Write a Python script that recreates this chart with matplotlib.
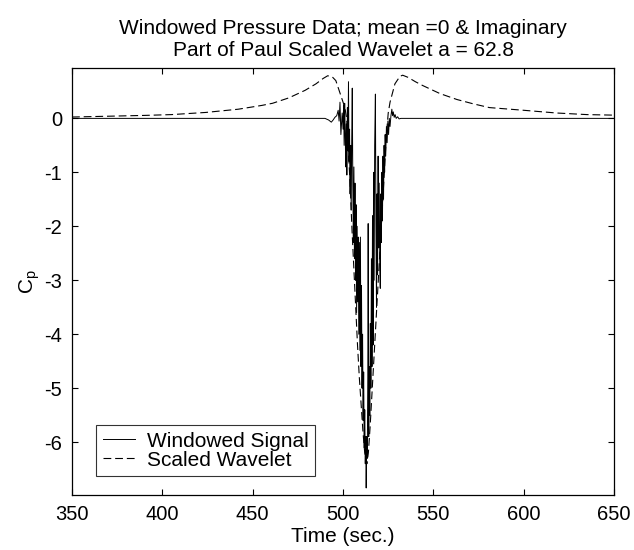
import numpy as np
import matplotlib
matplotlib.use('Agg')
import matplotlib.pyplot as plt

plt.rcParams['font.family'] = ['Liberation Sans', 'DejaVu Sans']

# windowed pressure signal, (time, Cp)
sig_t = [350, 480, 490, 492, 493.5, 494.5, 495.5, 496.5, 497.3, 497.8, 498.3, 498.8,
         499.5, 500.0, 500.3, 500.6, 500.9, 501.2, 501.5, 501.8, 502.1, 502.4, 502.7,
         503.0, 503.3, 503.6, 503.9, 504.2, 504.5, 504.8, 505.1, 505.4, 505.7, 506.0,
         506.3, 506.6, 506.9, 507.2, 507.5, 507.8, 508.1, 508.4, 508.7, 509.0, 509.3,
         509.6, 509.9, 510.2, 510.5, 510.8, 511.1, 511.4, 511.7, 512.0, 512.3, 512.6,
         512.8, 513.1, 513.4, 513.7, 513.9, 514.2, 514.5, 514.8, 515.1, 515.4, 515.7,
         516.0, 516.3, 516.6, 516.9, 517.2, 517.5, 517.9, 518.2, 518.5, 518.8, 519.1,
         519.4, 519.7, 520.0, 520.3, 520.6, 520.9, 521.2, 521.5, 521.8, 522.1, 522.4,
         522.7, 523.0, 523.3, 523.6, 524.0, 524.4, 524.8, 525.2, 525.6, 526.0, 526.5,
         527.0, 527.4, 527.8, 528.3, 528.8, 529.4, 530.2, 531, 532, 535, 650]
sig_cp = [0.0, 0.0, 0.0, -0.03, -0.07, -0.03, 0.02, 0.05, 0.15, -0.05, 0.3, -0.3,
          0.1, -0.2, 0.25, -0.5, 0.28, -0.3, -0.9, -0.1, -1.05, 0.2, -0.6,
          0.68, -0.8, -0.2, -1.4, -0.5, -1.7, -0.4, 0.56, -1.2, -2.3, -0.9,
          -2.6, -1.2, -3.0, -1.6, -3.6, -2.0, -3.4, -2.2, -4.0, -2.3, -4.3,
          -2.2, -4.6, -3.1, -5.0, -4.0, -5.6, -4.7, -6.1, -5.4, -6.4, -5.9,
          -6.85, -5.9, -6.3, -4.8, -1.95, -5.9, -4.6, -5.5, -3.8, -5.0, -2.6,
          -4.6, -1.8, -4.2, -1.0, -3.0, -0.5, 0.45, -2.0, -3.5, -1.4, -2.9,
          -0.7, -2.4, -1.2, -2.6, -3.15, -1.4, -2.3, -1.0, -1.9, -0.7, -1.5,
          -0.5, -1.0, -0.3, -0.7, -0.15, -0.45, -0.05, -0.3, 0.0, -0.15, 0.05,
          0.17, 0.05, 0.12, 0.02, 0.07, 0.0, 0.03, -0.01, 0.0, 0.0, 0.0]

# scaled Paul wavelet (imaginary part)
wav_t = [350, 370, 390, 405, 424, 442, 455, 461, 470, 479, 485, 489, 491.5, 494,
         496, 498, 500, 501, 502, 503, 504, 505, 506, 507, 508, 509, 510, 511, 512,
         513.2, 514, 515, 516, 517, 518, 519, 520, 521, 522, 523, 524, 525, 526,
         528.7, 531.5, 533, 536, 540, 544, 553.6, 563, 572, 581, 600, 618, 635, 650]
wav_cp = [0.025, 0.04, 0.055, 0.07, 0.11, 0.17, 0.24, 0.28, 0.38, 0.52, 0.64, 0.74, 0.79, 0.77,
          0.7, 0.5, 0.3, 0.2, 0.0, -0.6, -1.3, -2.1, -2.8, -3.5, -4.2, -4.8, -5.3, -5.8, -6.2,
          -6.4, -6.2, -5.7, -5.1, -4.5, -3.9, -3.3, -2.7, -2.1, -1.5, -0.9, -0.3, 0.1, 0.3,
          0.64, 0.78, 0.8, 0.76, 0.68, 0.61, 0.46, 0.35, 0.27, 0.2, 0.15, 0.1, 0.07, 0.06]

xticks = [350, 400, 450, 500, 550, 600, 650]
yticks = [0, -1, -2, -3, -4, -5, -6]

fig = plt.figure(figsize=(6.34, 5.5), dpi=100)
ax = fig.add_axes([0.1136, 0.1, 0.855, 0.776])

ax.plot(sig_t, sig_cp, color='k', lw=0.7, label='Windowed Signal')
ax.plot(wav_t, wav_cp, color='k', lw=0.8, linestyle=(0, (7, 3.5)), label='Scaled Wavelet')

ax.set_xlim(350, 650)
ax.set_ylim(-6.98, 0.93)
ax.set_xticks(xticks)
ax.set_yticks(yticks)
ax.set_yticklabels([str(v) for v in yticks])
ax.tick_params(direction='in', length=4.5, width=0.8, labelsize=14.5, top=True, right=True, pad=7)
for s in ax.spines.values():
    s.set_linewidth(0.9)

ax.set_xlabel('Time (sec.)', fontsize=15, labelpad=2)
ax.set_ylabel('C$_\\mathregular{p}$', fontsize=15, labelpad=2)
ax.set_title('Windowed Pressure Data; mean =0 & Imaginary\nPart of Paul Scaled Wavelet a = 62.8',
             fontsize=15, pad=9, linespacing=1.15)

leg = ax.legend(loc='lower left', bbox_to_anchor=(0.045, 0.045), fontsize=15, frameon=True,
                fancybox=False, handlelength=1.55, handletextpad=0.6, borderpad=0.3,
                labelspacing=0.0, borderaxespad=0)
leg.get_frame().set_edgecolor('k')
leg.get_frame().set_linewidth(0.8)

fig.savefig('out.png', dpi=100)
